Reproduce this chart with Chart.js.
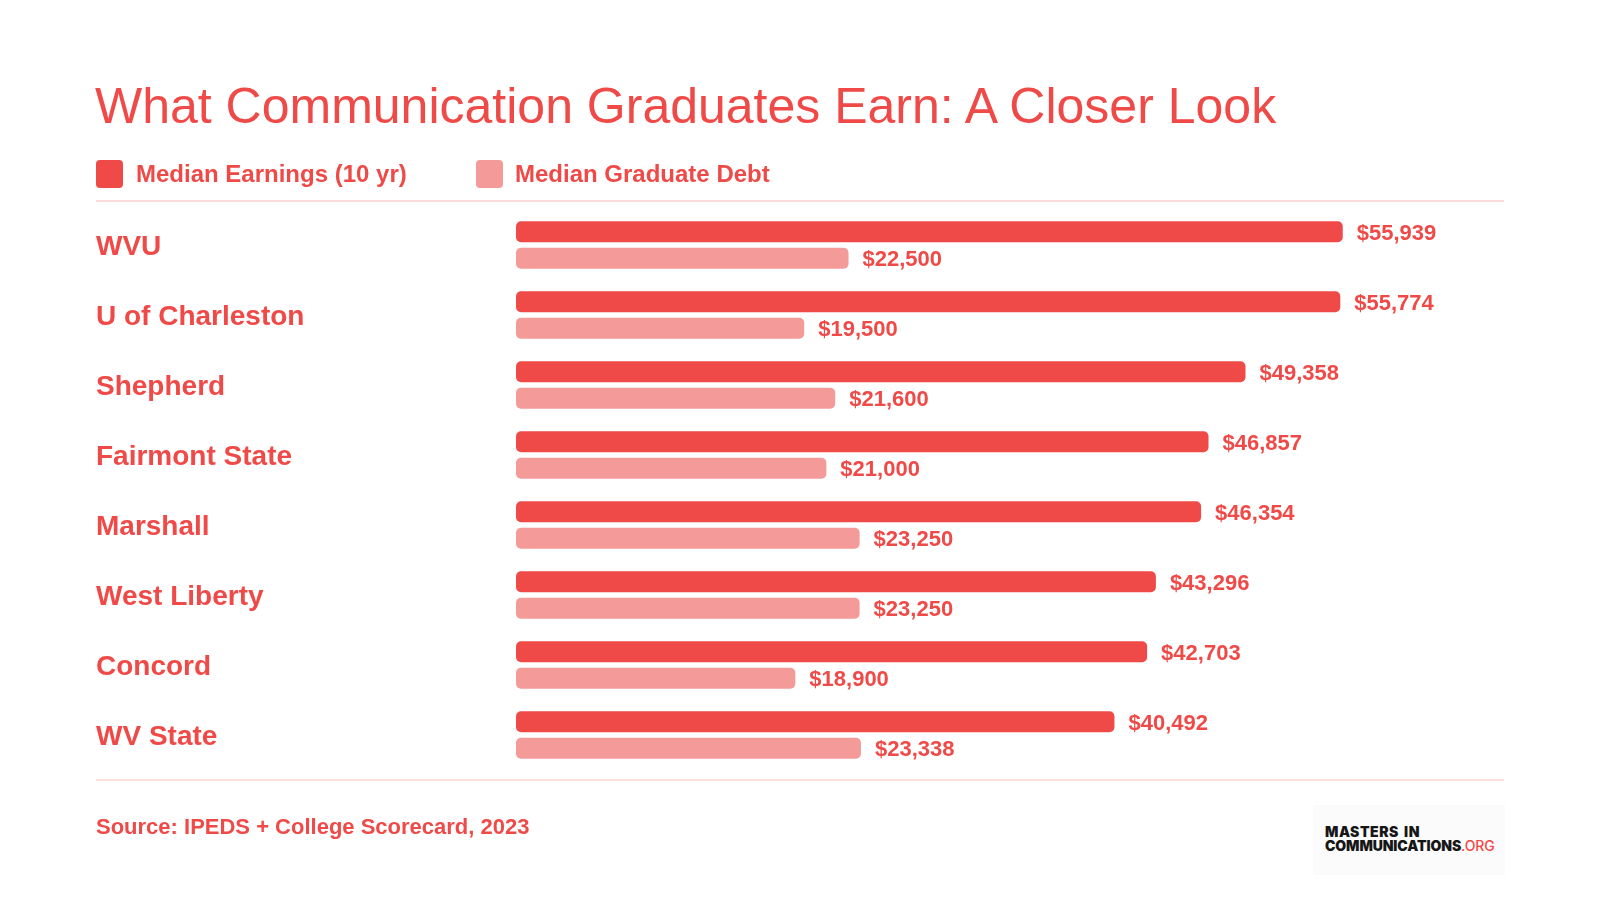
<!DOCTYPE html>
<html>
<head>
<meta charset="utf-8">
<script src="https://cdn.jsdelivr.net/npm/chart.js@4"></script>
<style>
  html, body { margin: 0; padding: 0; background: #ffffff; }
  #wrap { position: relative; width: 1600px; height: 900px; overflow: hidden; background: #fff; font-family: "Liberation Sans", Arial, sans-serif; }
  #chart { position: absolute; left: 0; top: 0; }
  .abs { position: absolute; white-space: nowrap; }
  #title { left: 95px; top: 81px; font-size: 50px; line-height: 50px; font-weight: 400; color: #ef4a47; }
  .lbox { position: absolute; top: 160px; width: 27px; height: 28px; border-radius: 4px; }
  .ltxt { top: 160px; font-size: 24px; line-height: 28px; font-weight: 700; color: #ef4a47; }
  .rule { position: absolute; left: 96px; width: 1408px; height: 2px; background: #fadcdb; }
  #source { left: 96px; top: 816px; font-size: 22px; line-height: 22px; font-weight: 700; color: #ef4a47; }
  #logobg { position: absolute; left: 1313px; top: 805px; width: 192px; height: 70px; background: #fbfbfb; }
  .logo { left: 1325px; font-family: Inter, "Liberation Sans", sans-serif; font-weight: 900; font-size: 14px; line-height: 13.7px; color: #161616; letter-spacing: -0.1px; }
  .logo span { color: #ef4a47; font-weight: 500; }
</style>
</head>
<body>
<div id="wrap">
  <canvas id="chart" width="1600" height="900"></canvas>
  <div id="title" class="abs">What Communication Graduates Earn: A Closer Look</div>
  <div class="lbox" style="left:96px;background:#ef4a47"></div>
  <div class="abs ltxt" style="left:136px">Median Earnings (10 yr)</div>
  <div class="lbox" style="left:476px;background:#f49a98"></div>
  <div class="abs ltxt" style="left:515px">Median Graduate Debt</div>
  <div class="rule" style="top:200px"></div>
  <div class="rule" style="top:779px"></div>
  <div id="source" class="abs">Source: IPEDS + College Scorecard, 2023</div>
  <div id="logobg"></div>
  <div class="abs logo" style="top:825px;letter-spacing:0.5px;word-spacing:2px">MASTERS IN</div>
  <div class="abs logo" style="top:839px">COMMUNICATIONS<span>.ORG</span></div>
</div>
<script>
const categories = ['WVU', 'U of Charleston', 'Shepherd', 'Fairmont State', 'Marshall', 'West Liberty', 'Concord', 'WV State'];
const seriesNames = ['Median Earnings (10 yr)', 'Median Graduate Debt'];
const earnings = [55939, 55774, 49358, 46857, 46354, 43296, 42703, 40492];
const debt = [22500, 19500, 21600, 21000, 23250, 23250, 18900, 23338];

const RED = '#ef4a47';
const PINK = '#f49a98';
const FONT = '"Liberation Sans", Arial, sans-serif';

const valueLabels = {
  id: 'valueLabels',
  afterDatasetsDraw(chart) {
    const ctx = chart.ctx;
    ctx.save();
    ctx.font = '700 22px ' + FONT;
    ctx.fillStyle = RED;
    ctx.textAlign = 'left';
    ctx.textBaseline = 'middle';
    chart.data.datasets.forEach((ds, di) => {
      const meta = chart.getDatasetMeta(di);
      meta.data.forEach((bar, i) => {
        const v = ds.data[i];
        ctx.fillText('$' + v.toLocaleString('en-US'), bar.x + 14, bar.y + 2);
      });
    });
    ctx.restore();
  }
};

new Chart(document.getElementById('chart'), {
  type: 'bar',
  data: {
    labels: categories,
    datasets: [
      { label: seriesNames[0], data: earnings, backgroundColor: RED },
      { label: seriesNames[1], data: debt, backgroundColor: PINK }
    ]
  },
  options: {
    indexAxis: 'y',
    responsive: false,
    animation: false,
    devicePixelRatio: 1,
    layout: { padding: { left: 96, right: 96, top: 210, bottom: 130 } },
    datasets: {
      bar: {
        categoryPercentage: 0.76,
        barPercentage: 0.79,
        borderRadius: 5,
        borderSkipped: false
      }
    },
    plugins: {
      legend: { display: false },
      title: { display: false },
      tooltip: { enabled: false }
    },
    scales: {
      x: {
        display: false,
        min: 0,
        max: 66850
      },
      y: {
        grid: { display: false, drawTicks: false },
        border: { display: false },
        afterFit(scale) { scale.width = 420; },
        ticks: {
          crossAlign: 'far',
          labelOffset: 2,
          color: RED,
          font: { family: FONT, size: 28, weight: '700' }
        }
      }
    }
  },
  plugins: [valueLabels]
});
</script>
</body>
</html>
